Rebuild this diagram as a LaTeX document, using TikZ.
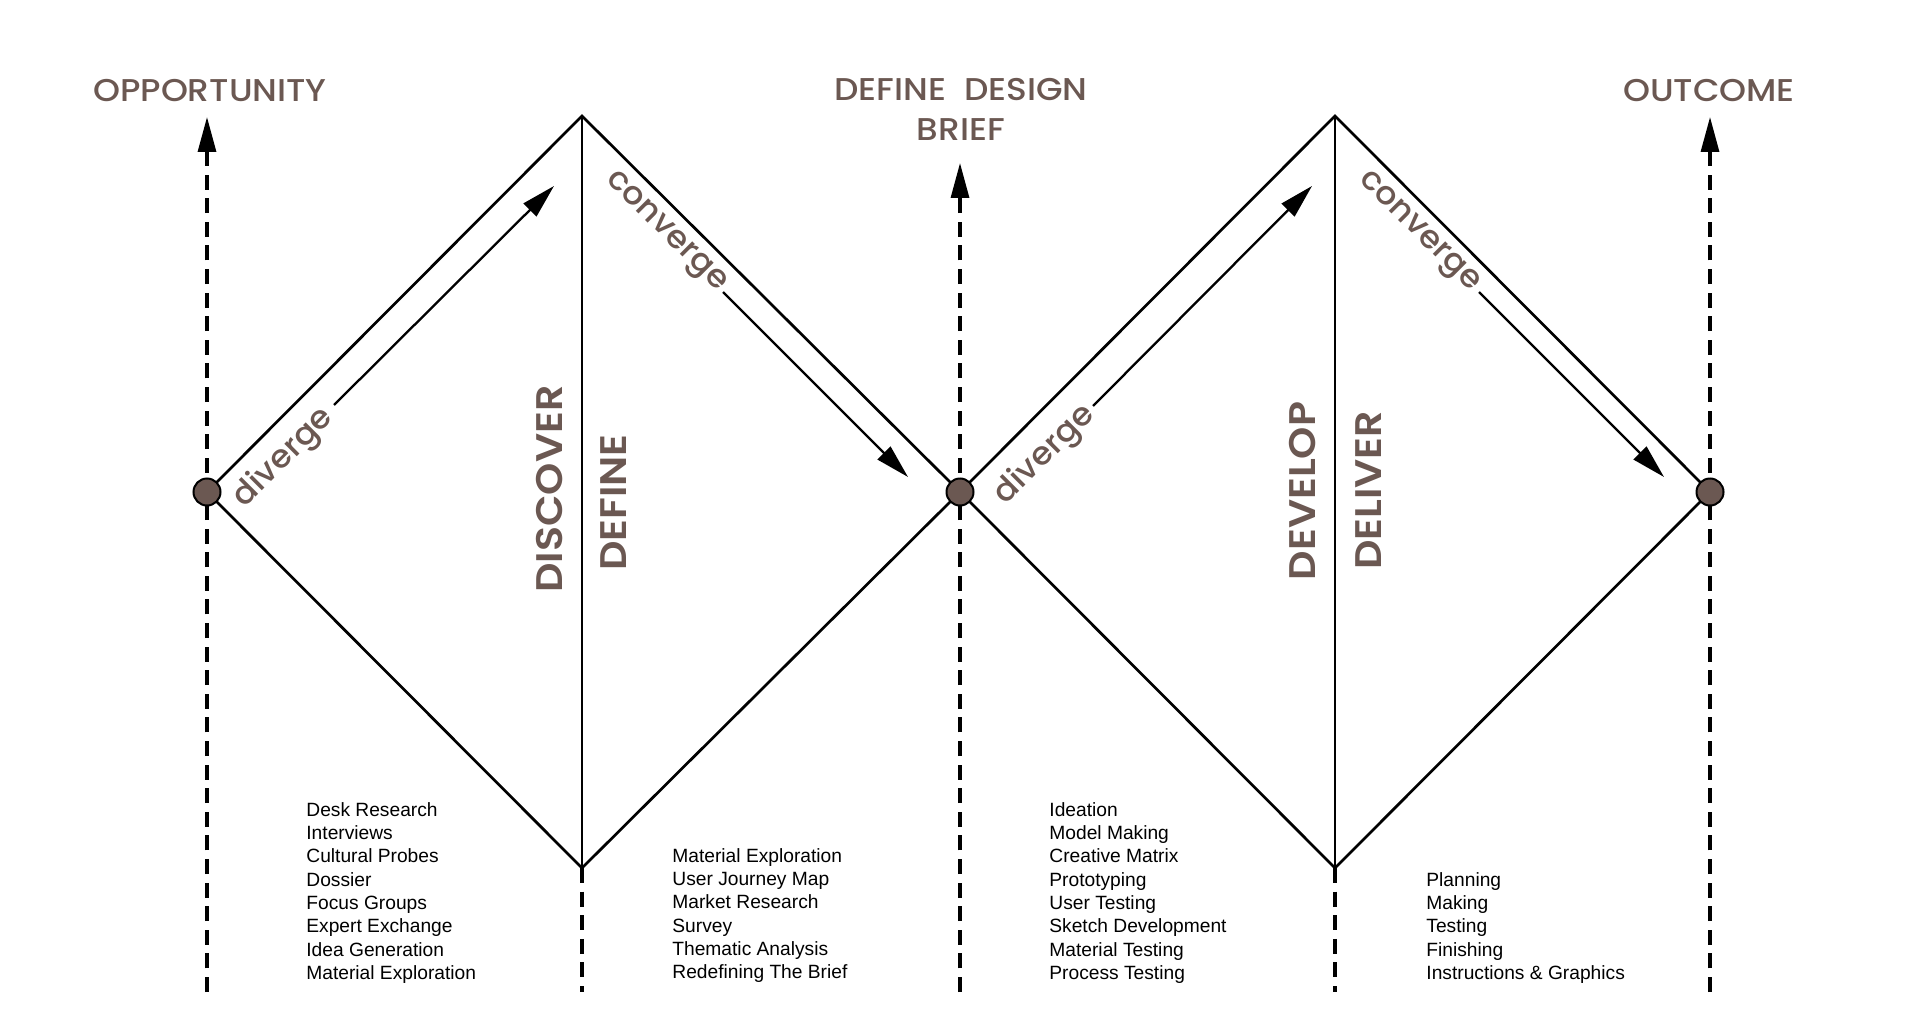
\documentclass[tikz,border=0pt]{standalone}
\usepackage{fontspec}
\setmainfont{Liberation Sans}
\newfontfamily\headfont{Poppins Medium}[FakeStretch=1.09]
\newfontfamily\phasefont{Poppins SemiBold}[FakeStretch=1.11]
\newfontfamily\flowfont{Poppins Medium}[FakeStretch=1.04]
\usetikzlibrary{arrows.meta}
\definecolor{brn}{HTML}{6B5852}
\begin{document}
\begin{tikzpicture}[x=0.5pt,y=-0.5pt,
  edge/.style={line width=1.35pt, line join=miter},
  midline/.style={line width=1.25pt},
  axis/.style={line width=1.6pt, dash pattern=on 7.5pt off 4.3pt, -{Triangle[length=17.5pt,width=9pt]}},
  tail/.style={line width=1.6pt, dash pattern=on 7.5pt off 4.3pt},
  flow/.style={line width=1.15pt, -{Triangle[length=17pt,width=9pt]}},
  dot/.style={circle, draw=black, line width=1pt, fill=brn, minimum size=13.5pt, inner sep=0pt},
  head/.style={text=brn, font=\headfont\fontsize{15.75}{20}\selectfont, inner sep=0pt},
  phase/.style={text=brn, font=\phasefont\fontsize{18.5}{20}\selectfont, inner sep=0pt, rotate=90},
  flowlbl/.style={text=brn, font=\flowfont\fontsize{16}{17}\selectfont, inner sep=0pt},
  list/.style={font=\fontsize{9.6}{11.65}\selectfont, align=left, inner sep=0pt, anchor=north west}
]
\useasboundingbox (0,0) rectangle (1920,1032);
% key points
\coordinate (L) at (207,492);
\coordinate (T1) at (582,116);
\coordinate (M) at (960,492);
\coordinate (B1) at (582,868);
\coordinate (T2) at (1335,116);
\coordinate (B2) at (1335,868);
\coordinate (R) at (1710,492);
% axis ends
\coordinate (La) at (207,117);
\coordinate (Ma) at (960,163);
\coordinate (Ra) at (1710,117);
\coordinate (Lb) at (207,992);
\coordinate (Mb) at (960,992);
\coordinate (Rb) at (1710,992);
\coordinate (B1b) at (582,992);
\coordinate (B2b) at (1335,992);
% dashed axes
\draw[axis] (Lb) -- (La);
\draw[axis] (Mb) -- (Ma);
\draw[axis] (Rb) -- (Ra);
\draw[tail] (B1) -- (B1b);
\draw[tail] (B2) -- (B2b);
% diamonds
\draw[edge] (L) -- (T1) -- (M) -- (B1) -- cycle;
\draw[edge] (M) -- (T2) -- (R) -- (B2) -- cycle;
\draw[midline] (T1) -- (B1);
\draw[midline] (T2) -- (B2);
% flow arrows
\coordinate (d1s) at (334,405);
\coordinate (d1e) at (554,186);
\coordinate (c1s) at (723,292);
\coordinate (c1e) at (908,477);
\coordinate (d2s) at (1093,406);
\coordinate (d2e) at (1312,186);
\coordinate (c2s) at (1479,292);
\coordinate (c2e) at (1664,477);
\draw[flow] (d1s) -- (d1e);
\draw[flow] (c1s) -- (c1e);
\draw[flow] (d2s) -- (d2e);
\draw[flow] (c2s) -- (c2e);
% circles
\node[dot] (cL) at (L) {};
\node[dot] (cM) at (M) {};
\node[dot] (cR) at (R) {};
% flow labels
\node[flowlbl, rotate=45] (dv1) at (284,458) {diverge};
\node[flowlbl, rotate=-45] (cv1) at (665,233) {converge};
\node[flowlbl, rotate=45] (dv2) at (1045,455) {diverge};
\node[flowlbl, rotate=-45] (cv2) at (1418,233) {converge};
% phases
\node[phase] (disc) at (550,489) {DISCOVER};
\node[phase] (defi) at (613.5,502.5) {DEFINE};
\node[phase] (deve) at (1303,491) {DEVELOP};
\node[phase] (deli) at (1369,490.5) {DELIVER};
% headings
\node[head, anchor=base] (opp) at (210,102) {OPPORTUNITY};
\node[head, anchor=north, align=center] (ddb) at (961,78) {DEFINE\ \ DESIGN\\BRIEF};
\node[head, anchor=base] (out) at (1709,102) {OUTCOME};
% lists
\node[list] (l1) at (306,802) {Desk Research\\Interviews\\Cultural Probes\\Dossier\\Focus Groups\\Expert Exchange\\Idea Generation\\Material Exploration};
\node[list] (l2) at (672,848) {Material Exploration\\User Journey Map\\Market Research\\Survey\\Thematic Analysis\\Redefining The Brief};
\node[list] (l3) at (1049,802) {Ideation\\Model Making\\Creative Matrix\\Prototyping\\User Testing\\Sketch Development\\Material Testing\\Process Testing};
\node[list] (l4) at (1426,872) {Planning\\Making\\Testing\\Finishing\\Instructions \& Graphics};
\end{tikzpicture}
\end{document}
